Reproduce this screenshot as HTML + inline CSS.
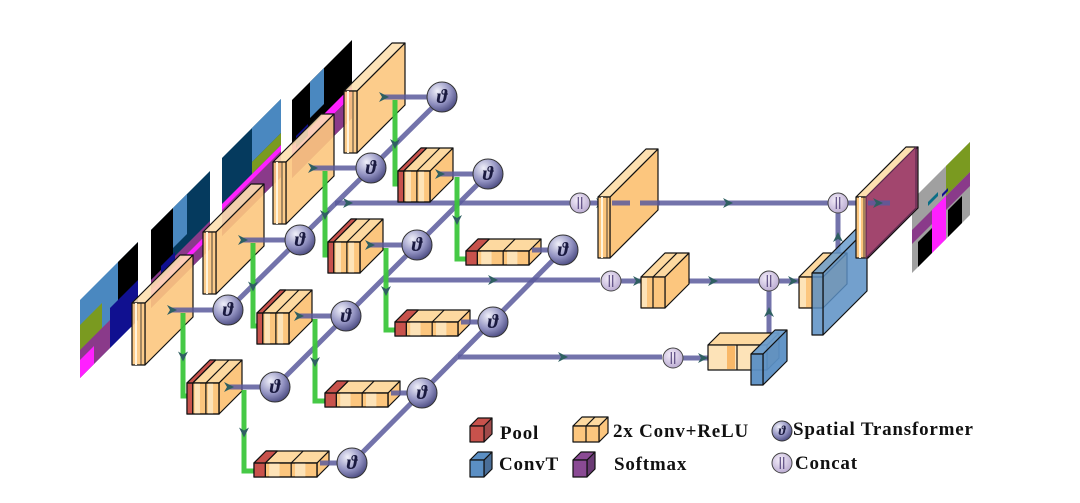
<!DOCTYPE html>
<html><head><meta charset="utf-8"><style>
html,body{margin:0;padding:0;background:#fff;width:1080px;height:503px;overflow:hidden}
svg{display:block}
text{font-family:"Liberation Serif",serif;font-weight:bold}
</style></head><body>
<svg id="s" width="1080" height="503" viewBox="0 0 1080 503" xmlns="http://www.w3.org/2000/svg">
<defs>
<radialGradient id="gt" cx="35%" cy="30%" r="75%"><stop offset="0" stop-color="#f0f0fa"/><stop offset="0.6" stop-color="#9090c0"/><stop offset="1" stop-color="#4a4a80"/></radialGradient>
<radialGradient id="gc" cx="40%" cy="35%" r="70%"><stop offset="0" stop-color="#f4eefa"/><stop offset="1" stop-color="#b8a8d0"/></radialGradient>
</defs>
<g id="imgs"></g>
<g id="main"></g>
</svg>
<script>
var NS="http://www.w3.org/2000/svg";
var main=document.getElementById('main'), imgs=document.getElementById('imgs');
function el(p,tag,a,txt){var e=document.createElementNS(NS,tag);for(var k in a)e.setAttribute(k,a[k]);if(txt)e.textContent=txt;p.appendChild(e);return e;}
function pts(a){return a.map(function(p){return p[0]+','+p[1]}).join(' ');}
function poly(p,a,fill,stroke,op){return el(p,'polygon',{points:pts(a),fill:fill,stroke:stroke||'#111','stroke-width':1.2,'fill-opacity':op||1,'stroke-linejoin':'round'});}
function box(p,x,y,w,h,d,cf,ct,cs,op){
 poly(p,[[x+w,y],[x+w+d,y-d],[x+w+d,y+h-d],[x+w,y+h]],cs,'#111',op);
 poly(p,[[x,y],[x+d,y-d],[x+w+d,y-d],[x+w,y]],ct,'#111',op);
 poly(p,[[x,y],[x+w,y],[x+w,y+h],[x,y+h]],cf,'#111',op);
}
function line(p,a,c,w,op){el(p,'polyline',{points:pts(a),fill:'none',stroke:c,'stroke-width':w,'stroke-opacity':op||1,'stroke-linejoin':'miter'});}
var PU='#5a5a9c', GR='#3cc63c', AR='#2f5f62';
function arrowR(p,x,y){poly(p,[[x-7,y-5],[x+3,y],[x-7,y+5],[x-4,y]],AR,'none');}
function arrowD(p,x,y){poly(p,[[x-5,y-7],[x,y+3],[x+5,y-7],[x,y-4]],AR,'none');}
function arrowU(p,x,y){poly(p,[[x-5,y+7],[x,y-3],[x+5,y+7],[x,y+4]],AR,'none');}
function theta(p,x,y,r){el(p,'circle',{cx:x,cy:y,r:r,fill:'url(#gt)',stroke:'#333','stroke-width':1});
 el(p,'text',{x:x,y:y+r*0.4,'text-anchor':'middle','font-size':r*1.35,'font-style':'italic','font-weight':'normal',fill:'#1a1a40'},'ϑ');}
function concat(p,x,y,r){el(p,'circle',{cx:x,cy:y,r:r,fill:'url(#gc)',stroke:'#444','stroke-width':1});
 line(p,[[x-1.7,y-r*0.6],[x-1.7,y+r*0.6]],'#5a4a80',1.2);line(p,[[x+1.7,y-r*0.6],[x+1.7,y+r*0.6]],'#5a4a80',1.2);}

function img(x,y,w,h,parts){
 var g=el(imgs,'g',{transform:'translate('+x+','+y+') skewY(-45)'});
 parts.forEach(function(q){el(g,'rect',{x:q[0],y:q[1],width:q[2],height:q[3],fill:q[4]});});
}
img(80,300,58,78,[[0,0,58,78,'#4a88c0'],[38,0,20,40,'#000'],[0,25,22,28,'#7a9a20'],[30,38,28,40,'#101090'],[0,50,30,28,'#8a3a8a'],[0,60,14,18,'#ff20ff']]);
img(151,230,59,78,[[0,0,59,78,'#053a5e'],[0,0,22,50,'#000'],[22,0,14,40,'#4a88c0'],[0,50,59,28,'#8a3a8a'],[10,46,14,10,'#101090'],[0,60,59,6,'#ff20ff']]);
img(222,158,59,78,[[0,0,59,78,'#053a5e'],[30,0,29,34,'#4a88c0'],[30,34,29,12,'#7a9a20'],[0,50,59,28,'#8a3a8a'],[0,46,59,6,'#ff20ff']]);
img(292,100,60,78,[[0,0,60,78,'#000'],[18,0,14,36,'#4a88c0'],[0,46,60,10,'#ff20ff'],[0,56,60,22,'#8a3a8a'],[4,40,12,12,'#101090']]);
img(912,200,58,73,[[0,0,58,73,'#a0a0a0'],[34,0,24,30,'#7a9a20'],[0,30,58,14,'#8a3a8a'],[20,30,14,43,'#ff20ff'],[6,48,14,25,'#000'],[36,46,14,27,'#000'],[16,18,10,4,'#0a6e86'],[30,24,6,3,'#101090']]);

var L=el(main,'g',{});
line(L,[[228,310],[443,97]],PU,5,0.85);
line(L,[[275,387],[488,174]],PU,5,0.85);
line(L,[[352,463],[563,250]],PU,5,0.85);
line(L,[[335,203],[570,203]],PU,5,0.85);
line(L,[[385,280],[600,280]],PU,5,0.85);
line(L,[[458,357],[662,357]],PU,5,0.85);
line(L,[[590,203],[828,203]],PU,5,0.85);
line(L,[[621,281],[759,281]],PU,5,0.85);
line(L,[[779,281],[800,281]],PU,5,0.85);
line(L,[[683,358],[710,358]],PU,5,0.85);
line(L,[[848,203],[890,203]],PU,5,0.85);
line(L,[[769,350],[769,291]],PU,5,0.85);
line(L,[[838,270],[838,213]],PU,5,0.85);
arrowR(L,350,203);arrowR(L,730,203);arrowR(L,495,280);arrowR(L,640,281);arrowR(L,715,281);arrowR(L,795,281);
arrowR(L,565,357);arrowR(L,705,358);arrowU(L,769,310);arrowU(L,838,235);arrowR(L,603,203);arrowR(L,870,203);

var E=el(main,'g',{});
function slab(x,y){box(E,x,y,13,62,48,'#fcc67e','#fde0b0','#fcc67e',0.9);
 line(E,[[x+4,y],[x+4,y+62]],'#fff3dc',2);line(E,[[x+9,y],[x+9,y+62]],'#222',0.8);}
function poolblk(x,y,w,h,d,nseg){
 box(E,x,y,w,h,d,'#fcc67e','#fdd9a0','#fcc67e');
 var rw=Math.max(5,w*0.18);
 el(E,'rect',{x:x,y:y,width:rw,height:h,fill:'#c8524c',stroke:'#111','stroke-width':1});
 poly(E,[[x,y],[x+d,y-d],[x+rw+d,y-d],[x+rw,y]],'#c8524c');
 var sw=(w-rw)/nseg;
 for(var i=0;i<nseg;i++){var sx=x+rw+i*sw;
  el(E,'rect',{x:sx+sw*0.15,y:y,width:sw*0.4,height:h,fill:'#fde3b8'});
  line(E,[[sx,y],[sx,y+h]],'#111',1.2);line(E,[[sx,y],[sx+d,y-d]],'#111',1.2);}
 el(E,'rect',{x:x,y:y,width:w,height:h,fill:'none',stroke:'#111','stroke-width':1.2});
}
var slabs=[[132,303],[203,232],[273,162],[344,91]];
var pb=[[398,171],[328,242],[257,313],[187,383]];
var wb=[[466,251],[395,322],[325,393],[254,463]];
var th1=[[228,310],[300,240],[371,168],[442,97]];
var th2=[[488,174],[417,245],[346,316],[275,387]];
var th3=[[563,250],[493,322],[422,393],[352,463]];
function greenL(x,y1,y2,x2){line(E,[[x,y1],[x,y2],[x2,y2]],GR,5,0.95);arrowD(E,x,(y1+y2)/2+4);arrowR(E,x2,y2);}
for(var k=3;k>=0;k--){
 var s=slabs[k];slab(s[0],s[1]);
 var t=th1[k];
 line(E,[[s[0]+38,t[1]],[t[0]-14,t[1]]],PU,5,0.85);arrowR(E,s[0]+42,t[1]);
 theta(E,t[0],t[1],15);
}
var gx1=[183,253,325,395], gx2=[457,386,315,244];
for(var k=0;k<4;k++){
 var b=pb[3-k];
 greenL(gx1[k],th1[k][1]+3,b[1]+13,b[0]+8);
}
for(var k=0;k<4;k++){
 var b=pb[k];poolblk(b[0],b[1],32,31,23,2);
 var t=th2[k];line(E,[[b[0]+40,t[1]],[t[0]-14,t[1]]],PU,5,0.85);arrowR(E,b[0]+44,t[1]);
 theta(E,t[0],t[1],15);
 var w=wb[k];
 greenL(gx2[k],t[1]+3,w[1]+8,w[0]+8);
}
for(var k=0;k<4;k++){
 var w=wb[k];poolblk(w[0],w[1],63,14,12,2);
 var t=th3[k];line(E,[[w[0]+66,t[1]],[t[0]-14,t[1]]],PU,5,0.85);
 theta(E,t[0],t[1],15);
}
var D=el(main,'g',{});
concat(D,580,203,10);concat(D,611,281,10);concat(D,769,281,10);concat(D,673,358,10);concat(D,838,203,10);
box(D,598,197,12,61,48,'#fcc67e','#fde0b0','#fcc67e');
line(D,[[602,197],[602,258]],'#fff3dc',2);line(D,[[607,197],[607,258]],'#222',0.8);
line(D,[[612,203],[630,203]],PU,5,0.85);line(D,[[640,203],[660,203]],PU,5,0.85);
box(D,641,277,24,31,24,'#fcc67e','#fdd9a0','#fcc67e');
el(D,'rect',{x:642,y:278,width:5,height:29,fill:'#fde3b8'});line(D,[[653,277],[653,308]],'#111',1.2);line(D,[[653,277],[677,253]],'#111',1.2);
box(D,708,345,59,25,12,'#fde3b8','#fdd9a0','#fcc67e');
el(D,'rect',{x:727,y:346,width:8,height:23,fill:'#f9b868'});line(D,[[737,345],[737,370]],'#111',1.2);
box(D,751,354,12,31,24,'#5b8fc4','#6a9ccc','#5b8fc4',0.95);
box(D,799,277,24,31,24,'#fcc67e','#fdd9a0','#fcc67e');
el(D,'rect',{x:800,y:278,width:6,height:29,fill:'#fde3b8'});
box(D,812,273,11,62,44,'#5b8fc4','#6a9ccc','#5b8fc4',0.85);
box(D,856,197,12,61,50,'#fcc67e','#fde0b0','#a2466e');
poly(D,[[866,197],[916,147],[916,208],[866,258]],'#a2466e','#5a2a50');
line(D,[[860,197],[860,258]],'#fff3dc',2);line(D,[[864,197],[864,258]],'#222',0.8);
line(D,[[868,203],[890,203]],PU,5,0.85);arrowR(D,880,203);

var G=el(main,'g',{});
box(G,470,426,14,16,8,'#c8524c','#c8524c','#a04a4a');
box(G,470,460,14,17,8,'#5b8fc4','#5b8fc4','#4a6e98');
box(G,573,426,26,16,9,'#fcc67e','#fdd9a0','#fcc67e');line(G,[[586,426],[586,442]],'#111',1.2);line(G,[[586,426],[595,417]],'#111',1.2);
box(G,573,460,14,17,8,'#8a4a94','#8a4a94','#6a3a74');
theta(G,782,431,10);concat(G,782,463,10);
var FS={'font-size':19,'letter-spacing':0.8,fill:'#111'};
function T(x,y,s){var a={x:x,y:y};for(var k in FS)a[k]=FS[k];el(G,'text',a,s);}
T(500,439,'Pool');T(499,470,'ConvT');T(613,437,'2x Conv+ReLU');T(614,470,'Softmax');
T(793,435,'Spatial Transformer');T(795,469,'Concat');
</script>
</body></html>
